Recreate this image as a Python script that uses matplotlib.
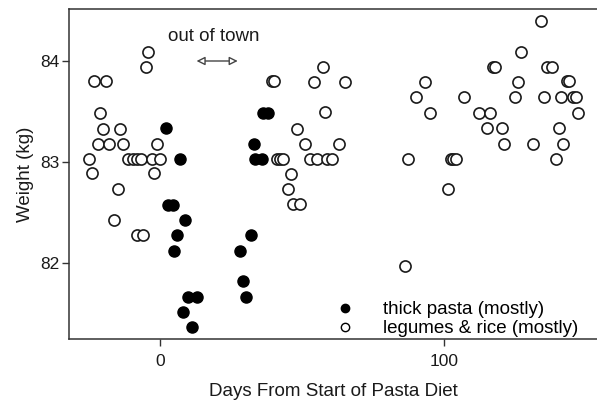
import matplotlib
matplotlib.use('Agg')
import matplotlib.pyplot as plt
from matplotlib.lines import Line2D

plt.rcParams['font.family'] = ['Liberation Sans', 'DejaVu Sans']

# days from start of pasta diet vs weight (kg)
legume_days = [-4.1, -5.0, -23.1, -19.0, -21.1, -20.0, -14.1, -21.7, -18.0, -13.1, -1.0,
               -24.9, -11.2, -9.6, -8.2, -6.7, -2.9, 0.0, -23.9, -2.0, -14.9, -16.1, -8.2, -5.9,
               39.3, 40.2, 57.3, 54.2, 65.0, 58.1, 48.1, 51.1, 63.1, 41.1, 42.3, 43.4,
               52.8, 55.2, 58.7, 60.5, 46.0, 45.2, 46.9, 49.3,
               86.3, 87.4, 90.1, 93.3, 95.1, 101.3, 102.4, 103.3, 104.2, 107.1, 112.2, 116.2,
               115.0, 117.4, 118.0, 120.3, 121.1, 125.0, 126.2, 127.1, 131.2, 134.2, 135.2,
               136.2, 138.1, 139.3, 140.4, 141.2, 142.1, 143.2, 144.0, 145.3, 146.5, 147.3]
legume_kg = [84.09, 83.94, 83.80, 83.80, 83.48, 83.33, 83.33, 83.18, 83.18, 83.18, 83.18,
             83.03, 83.03, 83.03, 83.03, 83.03, 83.03, 83.03, 82.89, 82.89, 82.73, 82.42, 82.27, 82.27,
             83.80, 83.80, 83.94, 83.79, 83.79, 83.49, 83.33, 83.18, 83.18, 83.03, 83.03, 83.03,
             83.03, 83.03, 83.03, 83.03, 82.88, 82.73, 82.58, 82.58,
             81.97, 83.03, 83.64, 83.79, 83.48, 82.73, 83.03, 83.03, 83.03, 83.64, 83.48, 83.48,
             83.34, 83.94, 83.94, 83.34, 83.18, 83.64, 83.79, 84.09, 83.18, 84.40, 83.64,
             83.94, 83.94, 83.03, 83.34, 83.64, 83.18, 83.80, 83.80, 83.64, 83.64, 83.48]

pasta_days = [2.1, 7.0, 2.9, 4.5, 8.9, 5.9, 5.0, 10.0, 12.9, 8.0, 11.2,
              36.4, 38.0, 33.2, 33.5, 35.9, 32.0, 28.2, 29.1, 30.3]
pasta_kg = [83.34, 83.03, 82.57, 82.57, 82.42, 82.27, 82.12, 81.66, 81.66, 81.51, 81.36,
            83.48, 83.48, 83.18, 83.03, 83.03, 82.27, 82.12, 81.82, 81.66]

fig = plt.figure(figsize=(5.97, 4.08), dpi=100)
ax = fig.add_axes([0.1156, 0.169, 0.8844, 0.809])

ax.scatter(legume_days, legume_kg, s=64, facecolors='white', edgecolors='#1a1a1a',
           linewidths=1.2, zorder=3)
ax.scatter(pasta_days, pasta_kg, s=64, facecolors='black', edgecolors='black',
           linewidths=1.0, zorder=3)

ax.set_xlim(-32.0, 153.9)
ax.set_ylim(81.242, 84.516)
ax.set_xticks([0, 100])
ax.set_yticks([82, 83, 84])
ax.tick_params(direction='out', length=5, width=1, color='#333333',
               labelsize=12.5, labelcolor='#1a1a1a')
ax.tick_params(axis='x', pad=6)
ax.tick_params(axis='y', pad=2)
ax.spines['right'].set_visible(False)
for s in ['left', 'top', 'bottom']:
    ax.spines[s].set_color('#333333')
    ax.spines[s].set_linewidth(1.1)

ax.set_xlabel('Days From Start of Pasta Diet', fontsize=13.5, color='#1a1a1a', labelpad=10)
ax.set_ylabel('Weight (kg)', fontsize=13.5, color='#1a1a1a', labelpad=4)

ax.annotate('', xy=(12.9, 84.0), xytext=(27.4, 84.0),
            arrowprops=dict(arrowstyle='<|-|>,head_length=0.5,head_width=0.25',
                            fc='white', ec='#444444', lw=1.0,
                            shrinkA=0, shrinkB=0))
ax.text(19.0, 84.245, 'out of town', ha='center', va='center', fontsize=13.5, color='#1a1a1a')

handles = [Line2D([], [], marker='o', ls='', ms=6, mfc='black', mec='black'),
           Line2D([], [], marker='o', ls='', ms=6, mfc='white', mec='black', mew=1.0)]
ax.legend(handles, ['thick pasta (mostly)', 'legumes & rice (mostly)'],
          loc='lower left', bbox_to_anchor=(0.491, -0.018), frameon=False,
          fontsize=13.5, handletextpad=1.5, labelspacing=0.1, handlelength=1.0,
          borderaxespad=0.0)

fig.savefig('out.png', dpi=100)
